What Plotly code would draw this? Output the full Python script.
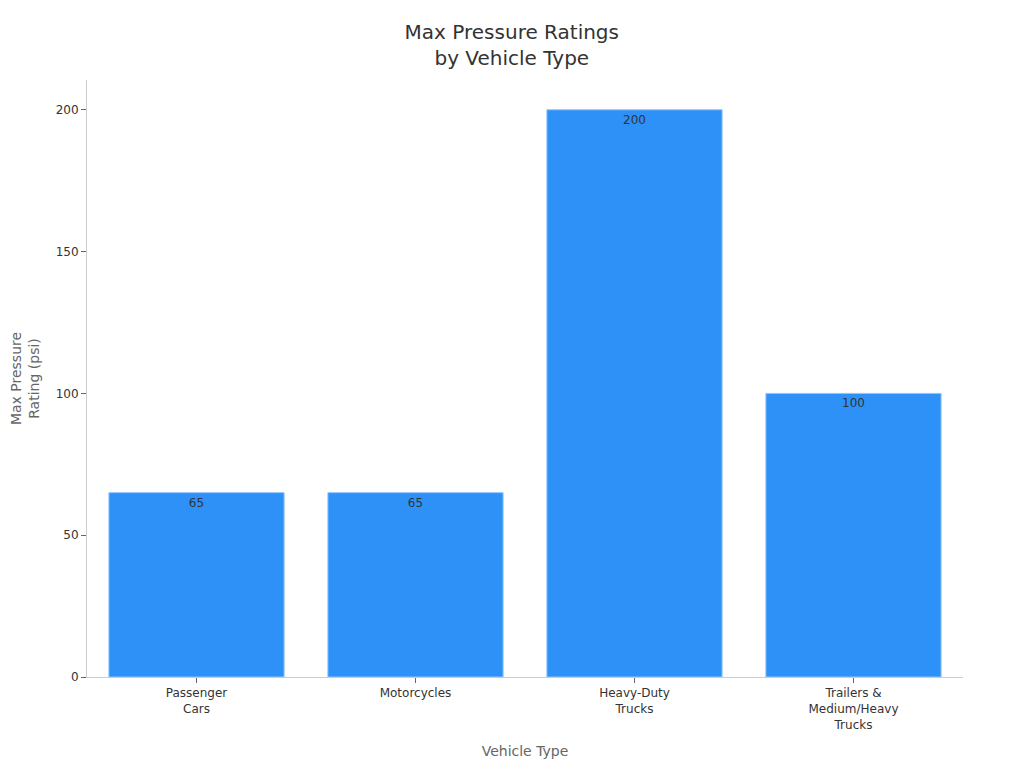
import plotly.graph_objects as go

# data
vehicle_types = ["Passenger<br>Cars", "Motorcycles", "Heavy-Duty<br>Trucks", "Trailers &<br>Medium/Heavy<br>Trucks"]
max_psi = [65, 65, 200, 100]

fig = go.Figure()
fig.add_trace(go.Bar(
    x=vehicle_types,
    y=max_psi,
    text=[str(v) for v in max_psi],
    textposition="inside",
    insidetextanchor="end",
    textfont=dict(size=12, color="#333333"),
    marker=dict(color="#2E91F8", line=dict(color="#8EC5FB", width=1)),
    showlegend=False,
))

fig.update_layout(
    width=1024,
    height=768,
    font=dict(family="DejaVu Sans", size=12, color="#333333"),
    title=dict(text="Max Pressure Ratings<br>by Vehicle Type", x=0.492, xanchor="center",
               y=0.959, yanchor="top", font=dict(size=20, color="#333333")),
    plot_bgcolor="white",
    paper_bgcolor="white",
    margin=dict(l=79, r=69, t=72, b=99),
    bargap=0.2,
    uniformtext=dict(minsize=12),
)
fig.update_xaxes(
    title=dict(text="Vehicle Type", font=dict(size=14, color="#666666")),
    showline=True, linecolor="#cccccc", linewidth=1,
    ticks="outside", tickcolor="#666666", ticklen=5,
    showgrid=False, automargin=False,
)
fig.update_yaxes(
    title=dict(text="Max Pressure<br>Rating (psi)", font=dict(size=14, color="#666666")),
    range=[0, 210.5],
    tickvals=[0, 50, 100, 150, 200],
    showline=True, linecolor="#cccccc", linewidth=1,
    ticks="outside", tickcolor="#666666", ticklen=5,
    showgrid=False, zeroline=False, automargin=False,
)

fig.write_html("out.html")
